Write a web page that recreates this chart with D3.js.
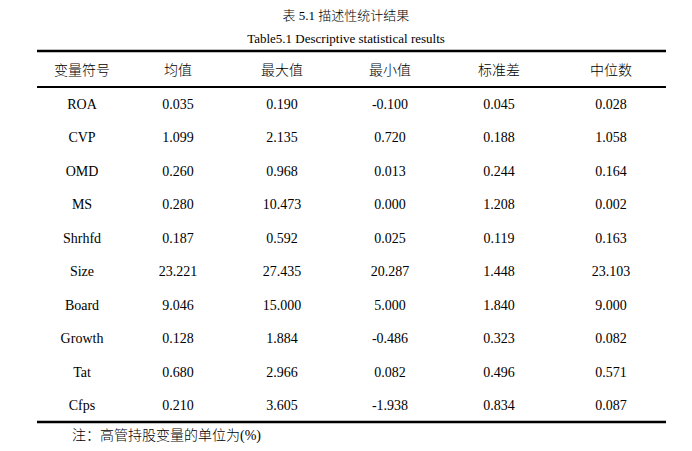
<!DOCTYPE html>
<html>
<head>
<meta charset="utf-8">
<script src="https://cdn.jsdelivr.net/npm/d3@7"></script>
<style>
body { margin: 0; background: #fff; }
text { font-family: "Liberation Serif", "Noto Sans CJK SC", serif; fill: #000; }
.cjk { font-weight: 300; }
</style>
</head>
<body>
<div class="svg-div"></div>
<script>
const headers = ['变量符号', '均值', '最大值', '最小值', '标准差', '中位数']
const variables = ['ROA', 'CVP', 'OMD', 'MS', 'Shrhfd', 'Size', 'Board', 'Growth', 'Tat', 'Cfps']
const means = ['0.035', '1.099', '0.260', '0.280', '0.187', '23.221', '9.046', '0.128', '0.680', '0.210']
const maxs = ['0.190', '2.135', '0.968', '10.473', '0.592', '27.435', '15.000', '1.884', '2.966', '3.605']
const mins = ['-0.100', '0.720', '0.013', '0.000', '0.025', '20.287', '5.000', '-0.486', '0.082', '-1.938']
const sds = ['0.045', '0.188', '0.244', '1.208', '0.119', '1.448', '1.840', '0.323', '0.496', '0.834']
const medians = ['0.028', '1.058', '0.164', '0.002', '0.163', '23.103', '9.000', '0.082', '0.571', '0.087']

const w = 692
const h = 451

const svg = d3.select('.svg-div')
    .append('svg')
    .attr('width', w)
    .attr('height', h)

// hand-tuned centres to match the picture's uneven column spacing
const colX = [82, 178, 282, 390, 499, 611]

const yScale = d3.scaleBand()
    .domain(d3.range(variables.length))
    .range([87, 422])

svg.append('text')
    .attr('class', 'cjk')
    .attr('x', w / 2)
    .attr('y', 20)
    .attr('text-anchor', 'middle')
    .attr('font-size', 13)
    .text('表 5.1  描述性统计结果')
svg.append('text')
    .attr('x', w / 2)
    .attr('y', 43)
    .attr('text-anchor', 'middle')
    .attr('font-size', 13)
    .text('Table5.1 Descriptive statistical results')

const rule = (y, sw) => svg.append('line')
    .attr('x1', 37).attr('x2', 666)
    .attr('y1', y).attr('y2', y)
    .attr('stroke', '#000')
    .attr('stroke-width', sw)
rule(51, 2.5)
rule(87, 2)
rule(422, 2.5)

svg.selectAll('.hdr')
    .data(headers)
    .enter()
    .append('text')
    .attr('class', 'hdr cjk')
    .attr('x', (d, i) => colX[i])
    .attr('y', 75)
    .attr('text-anchor', 'middle')
    .attr('font-size', 14)
    .text(d => d)

const rows = variables.map((v, i) => [v, means[i], maxs[i], mins[i], sds[i], medians[i]])

svg.selectAll('.row')
    .data(rows)
    .enter()
    .append('g')
    .attr('class', 'row')
    .attr('transform', (d, i) => 'translate(0,' + (yScale(i) + yScale.bandwidth() / 2 + 5) + ')')
    .selectAll('text')
    .data(d => d)
    .enter()
    .append('text')
    .attr('x', (d, i) => colX[i])
    .attr('text-anchor', 'middle')
    .attr('font-size', 14)
    .text(d => d)

svg.append('text')
    .attr('class', 'cjk')
    .attr('x', 72)
    .attr('y', 440)
    .attr('font-size', 14)
    .text('注：高管持股变量的单位为(%)')
</script>
</body>
</html>
